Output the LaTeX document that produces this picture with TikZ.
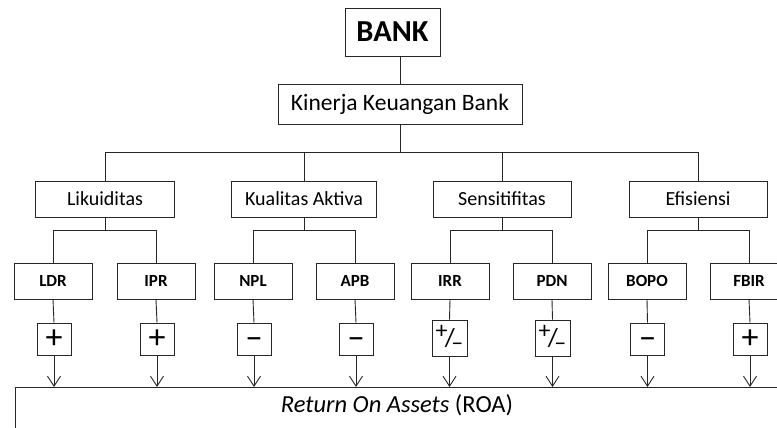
\documentclass[tikz,border=0pt]{standalone}
\usepackage{fontspec}
\setmainfont{Carlito}
\usetikzlibrary{arrows.meta}
\tikzset{
  box/.style={draw=black!85, line width=0.9pt, inner sep=0pt, anchor=center},
  lvlone/.style={box, minimum height=40pt, font=\fontsize{23.5}{26}\selectfont},
  lvltwo/.style={box, minimum height=36pt, font=\fontsize{20}{23}\selectfont},
  lvlthree/.style={box, minimum width=78pt, minimum height=36pt, font=\bfseries\fontsize{17}{20}\selectfont},
  signbox/.style={box, minimum width=34pt, minimum height=32pt, font=\fontsize{34}{34}\selectfont},
  link/.style={draw=black!85, line width=0.9pt},
  arr/.style={link, -{Straight Barb[length=10pt, width=13pt, line width=0.9pt]}}
}
\newcommand{\pmsign}{\raisebox{0.24em}{\fontsize{24}{24}\selectfont+}\kern-0.08em{\fontsize{26}{26}\selectfont/}\kern-0.1em\raisebox{-0.1em}{\fontsize{24}{24}\selectfont\textendash}}
\newcommand{\minussign}{\vphantom{+}\raisebox{-0.09em}{−}}
\begin{document}
\begin{tikzpicture}[x=1pt, y=-1pt]
\useasboundingbox (0,0) rectangle (777,428);
\begin{scope}
\clip (0,0) rectangle (777,428);
% top
\node[box, minimum width=95pt, minimum height=48pt, font=\bfseries\fontsize{30.5}{34}\selectfont] (bank) at (392.5,32) {BANK};
\node[lvlone, minimum width=244pt] (kin) at (400,104) {Kinerja Keuangan Bank};
\draw[link] (kin.north) -- (kin.north |- bank.south);
% level 2
\node[lvltwo, minimum width=139pt] (lik) at (105,199) {Likuiditas};
\node[lvltwo, minimum width=145pt] (kua) at (304,199) {Kualitas Aktiva};
\node[lvltwo, minimum width=138pt] (sen) at (502,199) {Sensitifitas};
\node[lvltwo, minimum width=138pt] (efi) at (698,199) {Efisiensi};
\coordinate (busA) at (400,152);
\draw[link] (kin.south) -- (busA);
\draw[link] (lik.north) -- (lik.north |- busA) -- (efi.north |- busA) -- (efi.north);
\draw[link] (kua.north) -- (kua.north |- busA);
\draw[link] (sen.north) -- (sen.north |- busA);
% level 3
\node[lvlthree] (ldr) at (53,281) {LDR};
\node[lvlthree] (ipr) at (156,281) {IPR};
\node[lvlthree] (npl) at (253,281) {NPL};
\node[lvlthree] (apb) at (355,281) {APB};
\node[lvlthree] (irr) at (450,281) {IRR};
\node[lvlthree] (pdn) at (552,281) {PDN};
\node[lvlthree] (bopo) at (647,281) {BOPO};
\node[lvlthree] (fbir) at (749,281) {FBIR};
\foreach \p/\a/\b in {lik/ldr/ipr, kua/npl/apb, sen/irr/pdn, efi/bopo/fbir}{
  \coordinate (\p-bus) at ([yshift=-13pt]\p.south);
  \draw[link] (\p.south) -- (\p-bus);
  \draw[link] (\a.north) -- (\a.north |- \p-bus) -- (\b.north |- \p-bus) -- (\b.north);
}
% signs
\node[signbox] (sldr) at (54,339) {+};
\node[signbox] (sipr) at (157,339) {+};
\node[signbox] (snpl) at (254,339) {\minussign};
\node[signbox] (sapb) at (356,339) {\minussign};
\node[signbox, minimum width=35pt, minimum height=36pt] (sirr) at (449.5,338) {\pmsign};
\node[signbox, minimum width=35pt, minimum height=36pt] (spdn) at (552.5,338) {\pmsign};
\node[signbox] (sbopo) at (647.5,339) {\minussign};
\node[signbox] (sfbir) at (750,339) {+};
% ROA
\draw[box] (15,387) rectangle (800,450);
\coordinate (roatop) at (15,387);
\node[font=\fontsize{24.5}{28}\selectfont, anchor=center] (roa) at (397,405) {\textit{Return On Assets} (ROA)};
\foreach \a in {ldr, ipr, npl, apb, irr, pdn, bopo, fbir}{
  \draw[link] (\a.south) -- (s\a.north);
  \draw[arr] (s\a.south) -- (s\a.south |- roatop);
}
\end{scope}
\end{tikzpicture}
\end{document}
